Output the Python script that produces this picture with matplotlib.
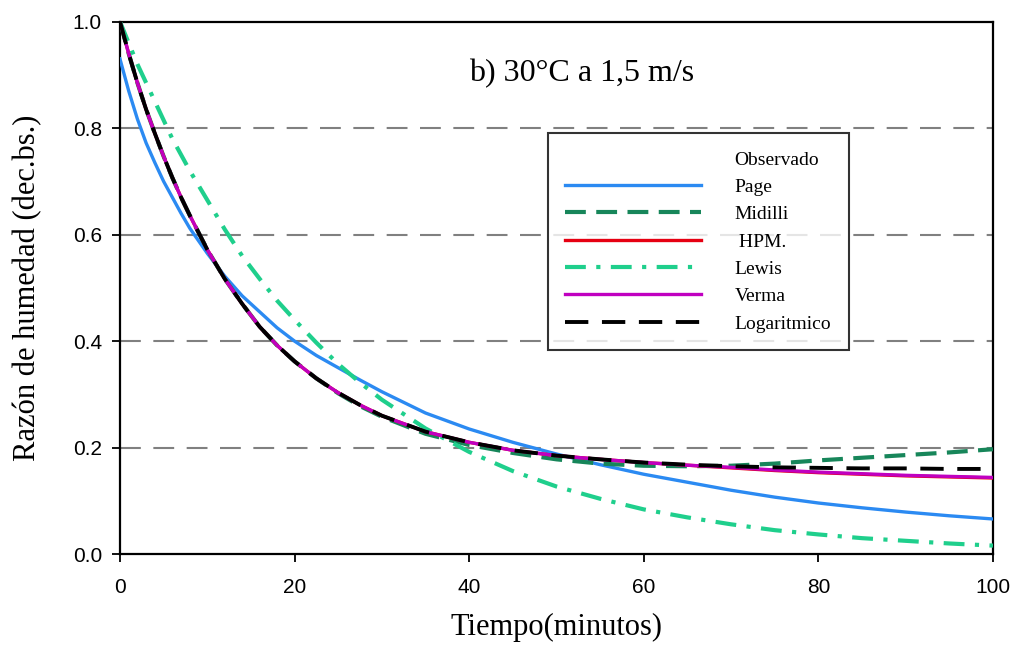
import matplotlib
matplotlib.use("Agg")
import matplotlib.pyplot as plt
from matplotlib.lines import Line2D

# valores (tiempo en minutos)
t = [0, 1, 2, 3, 4, 5, 6, 7, 8, 10, 12, 14, 16, 18, 20, 22.5, 25, 27.5, 30, 35, 40,
     45, 50, 55, 60, 65, 70, 75, 80, 85, 90, 95, 100]

page = [0.93, 0.87, 0.817, 0.772, 0.735, 0.70, 0.67, 0.64, 0.612, 0.565, 0.522,
        0.485, 0.455, 0.425, 0.40, 0.373, 0.35, 0.327, 0.305, 0.265, 0.235, 0.21,
        0.188, 0.168, 0.15, 0.135, 0.12, 0.107, 0.096, 0.087, 0.079, 0.072, 0.066]
midilli = [1.0, 0.94, 0.885, 0.835, 0.79, 0.747, 0.707, 0.67, 0.636, 0.572, 0.517,
           0.47, 0.427, 0.392, 0.362, 0.33, 0.302, 0.278, 0.258, 0.226, 0.205, 0.19,
           0.178, 0.17, 0.166, 0.165, 0.166, 0.17, 0.176, 0.181, 0.186, 0.191, 0.197]
hpm = [1.0, 0.94, 0.885, 0.835, 0.79, 0.747, 0.707, 0.67, 0.636, 0.572, 0.517,
       0.47, 0.427, 0.392, 0.362, 0.33, 0.303, 0.28, 0.26, 0.23, 0.21, 0.195,
       0.185, 0.178, 0.172, 0.167, 0.162, 0.157, 0.153, 0.150, 0.147, 0.145, 0.143]
lewis = [1.0, 0.96, 0.92, 0.885, 0.85, 0.815, 0.78, 0.75, 0.72, 0.665, 0.61,
         0.56, 0.517, 0.476, 0.44, 0.397, 0.357, 0.322, 0.29, 0.236, 0.192, 0.156,
         0.127, 0.104, 0.084, 0.069, 0.056, 0.045, 0.037, 0.030, 0.025, 0.020, 0.016]
verma = [1.0, 0.94, 0.885, 0.835, 0.79, 0.747, 0.707, 0.67, 0.636, 0.572, 0.517,
         0.47, 0.427, 0.392, 0.362, 0.33, 0.303, 0.28, 0.26, 0.23, 0.21, 0.195,
         0.185, 0.178, 0.172, 0.167, 0.163, 0.158, 0.154, 0.151, 0.148, 0.146, 0.144]
logaritmico = [1.0, 0.94, 0.885, 0.835, 0.79, 0.747, 0.707, 0.67, 0.636, 0.572, 0.517,
               0.47, 0.427, 0.392, 0.362, 0.33, 0.303, 0.28, 0.26, 0.23, 0.21, 0.195,
               0.185, 0.178, 0.172, 0.168, 0.165, 0.163, 0.162, 0.161, 0.161, 0.16, 0.16]

serif = "Liberation Serif"
sans = "Liberation Sans"

fig = plt.figure(figsize=(10.2, 6.55), dpi=100)
ax = fig.add_axes([0.1176, 0.154, 0.8559, 0.813])

for yv in [0.2, 0.4, 0.6, 0.8]:
    ax.axhline(yv, color="#808080", lw=1.5, dashes=(10, 6), zorder=1)

lw = 2.4
ax.plot(t, page, color="#2b8af2", lw=lw, label="Page", zorder=3)
ax.plot(t, midilli, color="#17865a", lw=lw + 0.6, dashes=(5, 2.5), label="Midilli", zorder=3)
ax.plot(t, hpm, color="#e60012", lw=lw, label=" HPM.", zorder=3)
ax.plot(t, lewis, color="#1fcf8c", lw=lw + 0.6, dashes=(5, 2.5, 1, 2.5), label="Lewis", zorder=3)
ax.plot(t, verma, color="#c000c0", lw=lw, label="Verma", zorder=4)
ax.plot(t, logaritmico, color="black", lw=lw + 0.4, dashes=(6, 3.5), label="Logaritmico", zorder=5)

handles, labels = ax.get_legend_handles_labels()
obs = Line2D([], [], linestyle="none", marker=None)
handles = [obs] + handles
labels = ["Observado"] + labels
leg = ax.legend(handles, labels, loc="upper left", bbox_to_anchor=(0.49, 0.79),
                frameon=True, fancybox=False, handlelength=7.0, handletextpad=1.7,
                borderpad=0.9, borderaxespad=0, labelspacing=0.5,
                prop={"family": serif, "size": 14})
leg.get_frame().set_edgecolor("black")
leg.get_frame().set_linewidth(1.5)

ax.set_xlim(0, 100)
ax.set_ylim(0, 1.0)
ax.set_xticks([0, 20, 40, 60, 80, 100])
ax.set_yticks([0.0, 0.2, 0.4, 0.6, 0.8, 1.0])
ax.set_yticklabels(["0.0", "0.2", "0.4", "0.6", "0.8", "1.0"])
ax.tick_params(direction="out", length=6, width=1.3, labelsize=15)
ax.tick_params(axis="y", pad=7)
ax.tick_params(axis="x", pad=11)
for lab in ax.get_xticklabels() + ax.get_yticklabels():
    lab.set_fontfamily(sans)
for sp in ax.spines.values():
    sp.set_linewidth(1.6)

ax.set_xlabel("Tiempo(minutos)", family=serif, fontsize=22, labelpad=12)
ax.set_ylabel("Razón de humedad (dec.bs.)", family=serif, fontsize=22, labelpad=22)
ax.text(0.529, 0.903, "b) 30°C a 1,5 m/s", transform=ax.transAxes, ha="center",
        va="center", family=serif, fontsize=23)

fig.savefig("out.png", dpi=100)
